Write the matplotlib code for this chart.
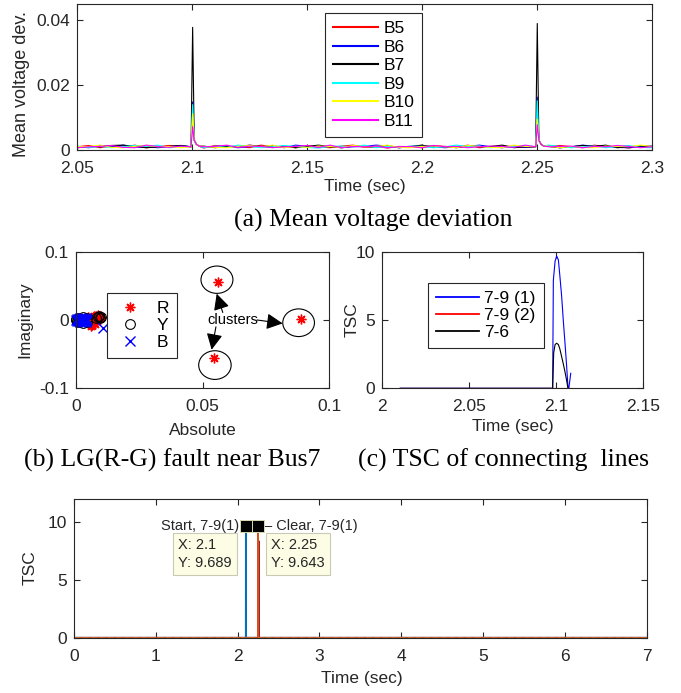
import matplotlib
matplotlib.use('Agg')
import matplotlib.pyplot as plt
from matplotlib.patches import Ellipse
import numpy as np

plt.rcParams['font.family'] = ['Liberation Sans', 'DejaVu Sans']
W, H = 681, 693
INK = '#262626'

# ---------------- (a) mean voltage deviation ----------------
bus_names = ['B5', 'B6', 'B7', 'B9', 'B10', 'B11']
bus_colors = ['#ff0000', '#0000ff', '#000000', '#00ffff', '#ffff00', '#ff00ff']
# baseline samples (units of 1e-4) on 2.05..2.3
base_B5 = [10, 14, 7, 12, 8, 15, 7, 10, 14, 11, 8, 6, 14, 10, 12, 7, 15, 10, 11, 7, 14, 10, 7, 12, 15, 8, 12, 6, 11, 10,
           7, 14, 11, 8, 15, 7, 10, 12, 11, 8, 7, 11, 14, 10, 7, 15, 10, 11, 6, 12, 10]
base_B6 = [11, 7, 14, 10, 15, 8, 11, 7, 10, 14, 15, 8, 11, 12, 7, 11, 10, 14, 7, 15, 11, 8, 12, 7, 10, 11, 15, 12, 7, 10,
           14, 11, 7, 10, 11, 15, 10, 7, 12, 8, 11, 14, 7, 10, 15, 11, 12, 8, 7, 11, 12]
base_B7 = [7, 11, 10, 14, 15, 11, 7, 10, 11, 14, 8, 12, 7, 11, 10, 15, 11, 8, 12, 7, 11, 15, 10, 7, 12, 11, 8, 14, 7, 11,
           15, 8, 11, 7, 12, 10, 11, 15, 7, 10, 12, 11, 7, 10, 14, 11, 15, 7, 10, 12, 11]
base_B9 = [12, 8, 11, 7, 10, 14, 11, 15, 7, 10, 11, 7, 12, 8, 15, 11, 7, 10, 14, 11, 8, 6, 11, 12, 10, 15, 7, 11, 8, 12,
           11, 7, 10, 15, 11, 12, 7, 10, 11, 14, 8, 15, 11, 7, 10, 12, 7, 11, 14, 8, 7]
base_B10 = [10, 11, 15, 8, 7, 11, 14, 10, 11, 7, 12, 11, 8, 7, 11, 14, 10, 15, 7, 11, 8, 12, 11, 7, 14, 10, 11, 15, 8, 7,
            11, 12, 10, 7, 14, 11, 8, 7, 15, 11, 10, 12, 7, 11, 8, 7, 12, 11, 10, 15, 11]
base_B11 = [7, 10, 11, 14, 8, 7, 15, 11, 8, 12, 7, 10, 11, 15, 8, 12, 11, 7, 10, 11, 14, 8, 15, 7, 11, 10, 12, 7, 10, 11,
            7, 14, 10, 11, 7, 10, 12, 11, 8, 15, 7, 10, 11, 12, 7, 11, 10, 14, 11, 7, 10]
base_all = [base_B5, base_B6, base_B7, base_B9, base_B10, base_B11]
event_times = [2.10, 2.25]
spike_rel_t = [-0.0005, 0.0002, 0.0009, 0.0018, 0.0030]
spike_tail = [0.0030, 0.0018, 0.0012]
peak_ev1 = [0.0095, 0.0148, 0.0378, 0.0140, 0.0112, 0.0072]
peak_ev2 = [0.0088, 0.0163, 0.0390, 0.0152, 0.0095, 0.0078]

# ---------------- (b) phasor scatter ----------------
R_x = [0.0050, 0.0058, 0.0064, 0.0070, 0.0076, 0.0082, 0.0088, 0.0094, 0.0060, 0.0068, 0.0072, 0.0085, 0.0098, 0.0055,
       0.0561, 0.0544, 0.0887]
R_y = [0.0040, -0.0060, -0.0075, 0.0050, -0.0065, 0.0060, 0.0070, 0.0030, -0.0085, -0.0040, 0.0065, -0.0020, 0.0050,
       -0.0030, 0.0560, -0.0550, 0.0020]
Y_x = [0.0002, 0.0003, 0.0004, 0.0010, 0.0010, 0.0030, 0.0030, 0.0045, 0.0045, 0.0082, 0.0088, 0.0094, 0.0100, 0.0090]
Y_y = [0.0, 0.0020, -0.0020, 0.0035, -0.0035, 0.0040, -0.0040, 0.0030, -0.0030, 0.0030, 0.0045, 0.0025, 0.0040, 0.0060]
B_x = [0.0003, 0.0008, 0.0013, 0.0018, 0.0023, 0.0028, 0.0033, 0.0038, 0.0043,
       0.0006, 0.0012, 0.0018, 0.0024, 0.0030, 0.0036, 0.0042,
       0.0006, 0.0012, 0.0018, 0.0024, 0.0030, 0.0036, 0.0042,
       0.0015, 0.0027, 0.0039, 0.0015, 0.0027, 0.0039, 0.0109]
B_y = [0, 0, 0, 0, 0, 0, 0, 0, 0,
       0.0015, 0.0015, 0.0015, 0.0015, 0.0015, 0.0015, 0.0015,
       -0.0015, -0.0015, -0.0015, -0.0015, -0.0015, -0.0015, -0.0015,
       0.0030, 0.0030, 0.0030, -0.0030, -0.0030, -0.0030, -0.0117]
cluster_cx = [0.0557, 0.0549, 0.0879]
cluster_cy = [0.0590, -0.0660, -0.0040]
cluster_w = [0.0126, 0.0128, 0.0125]
cluster_h = [0.0400, 0.0420, 0.0405]
arrow_tail = [(0.0580, 0.0110), (0.0553, -0.0100), (0.0715, 0.0)]
arrow_head = [(0.0556, 0.0385), (0.0536, -0.0435), (0.0816, -0.0050)]

# ---------------- (c) TSC of connecting lines ----------------
tsc_names = ['7-9 (1)', '7-9 (2)', '7-6']
t_79a = [2.0103, 2.0979, 2.0983, 2.0993, 2.1002, 2.1012, 2.1020, 2.1031, 2.1040, 2.1050, 2.1059, 2.1067, 2.1072, 2.1083]
v_79a = [0, 0, 7.9, 9.3, 9.68, 9.4, 8.3, 6.7, 5.0, 3.3, 1.7, 0.1, 0.0, 1.1]
t_79b = [2.0103, 2.1083]
v_79b = [0, 0]
t_76 = [2.0103, 2.0979, 2.0985, 2.0993, 2.1002, 2.1012, 2.1020, 2.1031, 2.1040, 2.1050, 2.1059, 2.1067]
v_76 = [0, 0, 2.6, 3.2, 3.3, 3.2, 2.9, 2.3, 1.8, 1.2, 0.6, 0.0]

# ---------------- (d) TSC full run ----------------
d_start_t = [0, 2.099, 2.1, 2.101, 7]
d_start_v = [0, 0, 9.689, 0, 0]
d_clear_t = [0, 2.249, 2.25, 2.251, 7]
d_clear_v = [0, 0, 9.643, 0, 0]
d_third_t = [0, 2.2615, 2.262, 2.2625, 7]
d_third_v = [0, 0, 8.4, 0, 0]
d_zero_t = [0, 7]
d_zero_v = [0, 0]
matlab_colors = ['#0072BD', '#D95319', '#EDB120', '#7E2F8E', '#77AC30', '#4DBEEE', '#A2142F']
tip_start = (2.1, 9.689)
tip_clear = (2.25, 9.643)

fig = plt.figure(figsize=(W / 100, H / 100), dpi=100)


def ax_px(l, t, r, b):
    return fig.add_axes([l / W, 1 - b / H, (r - l) / W, (b - t) / H])


def ftext(x, y, s, **kw):
    fig.text(x / W, 1 - y / H, s, **kw)


def style(ax):
    for s in ax.spines.values():
        s.set_color(INK)
        s.set_linewidth(0.8)
    ax.tick_params(direction='in', top=True, right=True, length=4, width=0.8,
                   colors=INK, labelsize=12.5)
    ax.tick_params(axis='x', pad=8)
    ax.tick_params(axis='y', pad=5)


# ---- (a)
axa = ax_px(77.3, 4, 651.7, 150)
for name, col, base, p1, p2 in zip(bus_names, bus_colors, base_all, peak_ev1, peak_ev2):
    tb = np.linspace(2.05, 2.3, len(base))
    vb = np.array(base) * 1e-4
    keep = np.ones(len(tb), bool)
    for ev in event_times:
        keep &= ~((tb >= ev + spike_rel_t[0] - 1e-9) & (tb <= ev + spike_rel_t[-1] + 1e-9))
    ts = list(tb[keep])
    vs = list(vb[keep])
    for ev, pk in zip(event_times, [p1, p2]):
        ts += [ev + r for r in spike_rel_t]
        vs += [0.0010, pk] + spike_tail
    order = np.argsort(ts)
    axa.plot(np.array(ts)[order], np.array(vs)[order], color=col, lw=0.8, label=name)
axa.set_xlim(2.05, 2.3)
axa.set_ylim(0, 0.045)
axa.set_xticks([2.05, 2.1, 2.15, 2.2, 2.25, 2.3])
axa.set_xticklabels(['2.05', '2.1', '2.15', '2.2', '2.25', '2.3'])
axa.set_yticks([0, 0.02, 0.04])
axa.set_yticklabels(['0', '0.02', '0.04'])
style(axa)
leg = axa.legend(loc='upper left', bbox_to_anchor=((325 - 77.3) / 574.4, (150 - 13) / 146), borderaxespad=0,
                 fontsize=12.5, labelspacing=0.2, handlelength=2.6, handletextpad=0.3, borderpad=0.45,
                 fancybox=False, framealpha=1, edgecolor=INK)
leg.get_frame().set_linewidth(0.8)
for lh in leg.get_lines():
    lh.set_linewidth(1.5)
ftext(21.7, 84, 'Mean voltage dev.', rotation=90, ha='center', va='center', fontsize=13, color=INK)
ftext(365, 187, 'Time (sec)', ha='center', va='center', fontsize=12.5, color=INK)
ftext(373, 220, '(a) Mean voltage deviation', ha='center', va='center', fontsize=18.5, family='Liberation Serif')

# ---- (b)
axb = ax_px(75.7, 251.7, 329.3, 388.3)
axb.plot(R_x, R_y, ls='none', marker=(8, 2, 0), ms=7, mew=1.0, color='r', label='R', clip_on=False)
axb.plot(Y_x, Y_y, ls='none', marker='o', ms=7, mfc='none', mew=0.8, color='k', label='Y', clip_on=False)
axb.plot(B_x, B_y, ls='none', marker='x', ms=6.5, mew=1.0, color='b', label='B', clip_on=False)
for cx, cy, w, h in zip(cluster_cx, cluster_cy, cluster_w, cluster_h):
    axb.add_patch(Ellipse((cx, cy), w, h, fill=False, ec='k', lw=0.8))
axb.text(0.062, 0.0, 'clusters', ha='center', va='center', fontsize=10.5, color='k', zorder=5)
for tl, hd in zip(arrow_tail, arrow_head):
    axb.annotate('', xy=hd, xytext=tl,
                 arrowprops=dict(arrowstyle='-|>,head_length=0.7,head_width=0.35', mutation_scale=14,
                                 lw=0.8, color='k', shrinkA=0, shrinkB=0))
axb.set_xlim(0, 0.1)
axb.set_ylim(-0.1, 0.1)
axb.set_xticks([0, 0.05, 0.1])
axb.set_xticklabels(['0', '0.05', '0.1'])
axb.set_yticks([-0.1, 0, 0.1])
axb.set_yticklabels(['-0.1', '0', '0.1'])
style(axb)
legb = axb.legend(loc='upper left', bbox_to_anchor=((107 - 75.7) / 253.6, (388.3 - 293) / 136.6), borderaxespad=0,
                  fontsize=12.5, labelspacing=0.12, handlelength=1.7, handletextpad=0.7, borderpad=0.45,
                  fancybox=False, framealpha=1, edgecolor=INK)
legb.get_frame().set_linewidth(0.8)
legb.set_zorder(10)
ftext(25, 320, 'Imaginary', rotation=90, ha='center', va='center', fontsize=12.5, color=INK)
ftext(202.5, 430, 'Absolute', ha='center', va='center', fontsize=12.5, color=INK)
ftext(172, 460, '(b) LG(R-G) fault near Bus7', ha='center', va='center', fontsize=18.5, family='Liberation Serif')

# ---- (c)
axc = ax_px(382.3, 251.7, 643.3, 388.3)
axc.plot(t_79a, v_79a, color='b', lw=0.8, label=tsc_names[0])
axc.plot(t_76, v_76, color='k', lw=0.8, label=tsc_names[2], zorder=2.1)
axc.plot(t_79b, v_79b, color='r', lw=0.8, label=tsc_names[1], zorder=2.2)
axc.set_xlim(2, 2.15)
axc.set_ylim(0, 10)
axc.set_xticks([2, 2.05, 2.1, 2.15])
axc.set_xticklabels(['2', '2.05', '2.1', '2.15'])
axc.set_yticks([0, 5, 10])
style(axc)
hs, ls_ = axc.get_legend_handles_labels()
order_c = [ls_.index(n) for n in tsc_names]
legc = axc.legend([hs[i] for i in order_c], [ls_[i] for i in order_c], loc='upper left',
                  bbox_to_anchor=((428 - 382.3) / 261, (388.3 - 283) / 136.6), borderaxespad=0,
                  fontsize=12.5, labelspacing=0.12, handlelength=2.5, handletextpad=0.3, borderpad=0.45,
                  fancybox=False, framealpha=1, edgecolor=INK)
legc.get_frame().set_linewidth(0.8)
for lh in legc.get_lines():
    lh.set_linewidth(1.3)
ftext(351.7, 320, 'TSC', rotation=90, ha='center', va='center', fontsize=12.5, color=INK)
ftext(513, 427, 'Time (sec)', ha='center', va='center', fontsize=12.5, color=INK)
ftext(504, 460, '(c) TSC of connecting  lines', ha='center', va='center', fontsize=18.5, family='Liberation Serif')

# ---- (d)
axd = ax_px(74, 499.3, 646.7, 637.7)
axd.plot(d_third_t, d_third_v, color=matlab_colors[6], lw=0.6)
axd.plot(d_start_t, d_start_v, color=matlab_colors[0], lw=1.2)
axd.plot(d_clear_t, d_clear_v, color=matlab_colors[1], lw=1.2)
for k, c in enumerate(matlab_colors[2:6]):
    axd.plot(d_zero_t, d_zero_v, color=c, lw=1.0, ls=(k * 1.5, (1.5, 4.5)))
axd.plot(*tip_start, marker='s', ms=8, color='k', mec='#d8d8b0', mew=0.7, zorder=6)
axd.plot(*tip_clear, marker='s', ms=8, color='k', mec='#d8d8b0', mew=0.7, zorder=6)
boxkw = dict(boxstyle='square,pad=0.35', fc='#fdfde6', ec='#c9c9b4', lw=0.8)
axd.annotate('X: %g\nY: %g' % tip_start, xy=tip_start, xytext=(-14, -12), textcoords='offset pixels',
             ha='right', va='top', multialignment='left', fontsize=10.5, color=INK, bbox=boxkw,
             linespacing=1.35, zorder=7)
axd.annotate('X: %g\nY: %g' % tip_clear, xy=tip_clear, xytext=(13, -11.5), textcoords='offset pixels',
             ha='left', va='top', multialignment='left', fontsize=10.5, color=INK, bbox=boxkw,
             linespacing=1.35, zorder=7)
axd.annotate('Start, 7-9(1)', xy=tip_start, xytext=(-6.5, 0), textcoords='offset pixels',
             ha='right', va='center', fontsize=10.5, color=INK)
axd.annotate('\u2013 Clear, 7-9(1)', xy=tip_clear, xytext=(5.5, 0), textcoords='offset pixels',
             ha='left', va='center', fontsize=10.5, color=INK)
axd.set_xlim(0, 7)
axd.set_ylim(0, 12)
axd.set_xticks(range(8))
axd.set_yticks([0, 5, 10])
style(axd)
ftext(30, 568, 'TSC', rotation=90, ha='center', va='center', fontsize=12.5, color=INK)
ftext(362, 678, 'Time (sec)', ha='center', va='center', fontsize=12.5, color=INK)

fig.savefig('out.png', dpi=100)
